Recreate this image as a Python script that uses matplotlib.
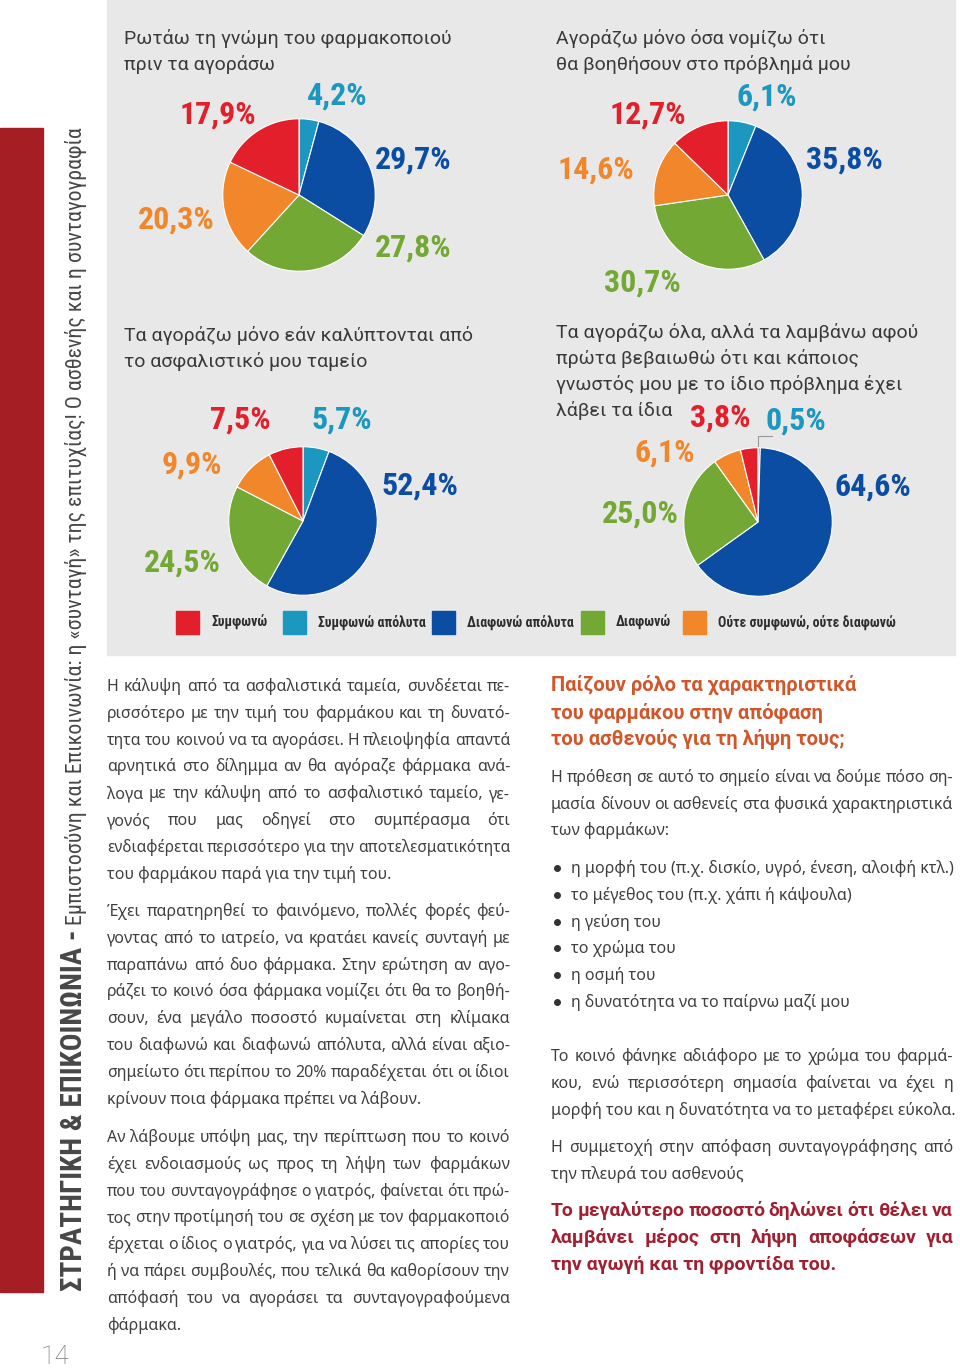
import matplotlib
matplotlib.use("Agg", force=True)
import matplotlib.pyplot as plt
from matplotlib.patches import Rectangle

W, H = 960, 1370

# ---- data ----
CATEGORIES = ["Συμφωνώ", "Συμφωνώ απόλυτα", "Διαφωνώ απόλυτα", "Διαφωνώ",
              "Ούτε συμφωνώ, ούτε διαφωνώ"]
COLORS = ["#e41f2c", "#1b97c0", "#0b4da2", "#74a834", "#f1862a"]

Q_TITLES = [
    "Ρωτάω τη γνώμη του φαρμακοποιού\nπριν τα αγοράσω",
    "Τα αγοράζω μόνο εάν καλύπτονται από\nτο ασφαλιστικό μου ταμείο",
    "Αγοράζω μόνο όσα νομίζω ότι\nθα βοηθήσουν στο πρόβλημά μου",
    "Τα αγοράζω όλα, αλλά τα λαμβάνω αφού\nπρώτα βεβαιωθώ ότι και κάποιος\n"
    "γνωστός μου με το ίδιο πρόβλημα έχει\nλάβει τα ίδια",
]
# values in CATEGORIES order
Q1 = [17.9, 4.2, 29.7, 27.8, 20.3]
Q2 = [7.5, 5.7, 52.4, 24.5, 9.9]
Q3 = [12.7, 6.1, 35.8, 30.7, 14.6]
Q4 = [3.8, 0.5, 64.6, 25.0, 6.1]
QUESTIONS = [Q1, Q2, Q3, Q4]
PIE_ORDER = [1, 2, 3, 4, 0]   # clockwise from 12 o'clock

LEFT_TEXT = [
    ["Η κάλυψη από τα ασφαλιστικά ταμεία, συνδέεται πε-",
     "ρισσότερο με την τιμή του φαρμάκου και τη δυνατό-",
     "τητα του κοινού να τα αγοράσει.  Η πλειοψηφία απαντά",
     "αρνητικά στο δίλημμα αν θα αγόραζε  φάρμακα ανά-",
     "λογα με την κάλυψη από το ασφαλιστικό ταμείο, γε-",
     "γονός που μας οδηγεί στο συμπέρασμα ότι",
     "ενδιαφέρεται περισσότερο για την αποτελεσματικότητα",
     "του φαρμάκου παρά για την τιμή του."],
    ["Έχει παρατηρηθεί το φαινόμενο, πολλές φορές φεύ-",
     "γοντας από το ιατρείο, να κρατάει κανείς συνταγή με",
     "παραπάνω από δυο φάρμακα. Στην ερώτηση αν αγο-",
     "ράζει το κοινό όσα φάρμακα νομίζει ότι θα το βοηθή-",
     "σουν, ένα μεγάλο ποσοστό κυμαίνεται στη κλίμακα",
     "του διαφωνώ και διαφωνώ απόλυτα, αλλά είναι αξιο-",
     "σημείωτο ότι περίπου το 20% παραδέχεται ότι οι ίδιοι",
     "κρίνουν ποια φάρμακα πρέπει να λάβουν."],
    ["Αν λάβουμε υπόψη μας, την περίπτωση που το κοινό",
     "έχει ενδοιασμούς ως προς τη λήψη των φαρμάκων",
     "που του συνταγογράφησε ο γιατρός, φαίνεται ότι πρώ-",
     "τος στην προτίμησή του σε σχέση με τον φαρμακοποιό",
     "έρχεται ο ίδιος ο γιατρός, για να λύσει τις απορίες του",
     "ή να πάρει συμβουλές, που τελικά θα καθορίσουν την",
     "απόφασή του να αγοράσει τα συνταγογραφούμενα",
     "φάρμακα."],
]
RIGHT_HEAD = ["Παίζουν ρόλο τα χαρακτηριστικά", "του φαρμάκου στην απόφαση",
              "του ασθενούς για τη λήψη τους;"]
RIGHT_P1 = ["Η πρόθεση σε αυτό το σημείο είναι να δούμε πόσο ση-",
            "μασία δίνουν οι ασθενείς στα φυσικά χαρακτηριστικά",
            "των φαρμάκων:"]
BULLETS = ["η μορφή του (π.χ. δισκίο, υγρό, ένεση, αλοιφή κτλ.)",
           "το μέγεθος του (π.χ. χάπι ή κάψουλα)",
           "η γεύση του", "το χρώμα του", "η οσμή του",
           "η δυνατότητα να το παίρνω μαζί μου"]
RIGHT_P2 = ["Το κοινό φάνηκε αδιάφορο με το χρώμα του φαρμά-",
            "κου, ενώ περισσότερη σημασία φαίνεται να έχει η",
            "μορφή του και η δυνατότητα να το μεταφέρει εύκολα."]
RIGHT_P3 = ["Η συμμετοχή στην απόφαση συνταγογράφησης από",
            "την πλευρά του ασθενούς"]
RIGHT_BOLD = ["Το μεγαλύτερο ποσοστό δηλώνει ότι θέλει να",
              "λαμβάνει μέρος στη λήψη αποφάσεων για",
              "την αγωγή και τη φροντίδα του."]
SIDE_BOLD = "ΣΤΡΑΤΗΓΙΚΗ & ΕΠΙΚΟΙΝΩΝΙΑ -"
SIDE_TEXT = ("Εμπιστοσύνη και Επικοινωνία: η «συνταγή» της επιτυχίας! "
             "Ο ασθενής και η συνταγογραφία")
PAGE_NO = "14"

# ---- layout (pixels) ----
PIE_CENTERS = [(299, 195), (303, 521), (728, 195), (758, 522)]
PIE_R = [77, 75, 75, 75]
TITLE_POS = [(124, 38), (124, 335), (556, 38), (556, 332)]
# label centres, CATEGORIES order
LABEL_POS = [
    [(218, 115), (337, 96), (413, 160), (413, 248), (176, 220)],
    [(240, 420), (342, 420), (420, 486), (182, 563), (192, 465)],
    [(648, 115), (767, 97), (844, 160), (642, 283), (596, 170)],
    [(720, 418), (796, 421), (873, 487), (640, 514), (665, 453)],
]
LEG_X = [176, 283, 432, 581, 683]

COND = ["Roboto Condensed", "DejaVu Sans"]
BODY = ["Noto Sans", "DejaVu Sans"]
HEAD = ["Roboto", "DejaVu Sans"]
TEXT_C = "#404040"

fig = plt.figure(figsize=(W / 100, H / 100), dpi=100)
fig.patch.set_facecolor("white")
ax = fig.add_axes([0, 0, 1, 1])
ax.set_xlim(0, W)
ax.set_ylim(H, 0)
ax.axis("off")
renderer = fig.canvas.get_renderer()

# backgrounds
ax.add_patch(Rectangle((107, 0), 848, 655, color="#e8e8e8", zorder=0))
ax.add_patch(Rectangle((0, 128), 43, 1164, color="#a41e24", zorder=0))


def text_width(t):
    return t.get_window_extent(renderer).width


def draw_line(x0, x1, y, s, justify=True, min_gap=3.5, **kw):
    words = s.split()
    if not justify or len(words) < 2:
        ax.text(x0, y, s, va="baseline", ha="left", **kw)
        return
    ts = [ax.text(0, y, w, va="baseline", ha="left", **kw) for w in words]
    ws = [text_width(t) for t in ts]
    room = x1 - x0 - min_gap * (len(words) - 1)
    if sum(ws) > room:          # too long: shrink this line a little
        k = room / sum(ws)
        for t in ts:
            t.set_fontsize(t.get_fontsize() * k)
        ws = [text_width(t) for t in ts]
    gap = (x1 - x0 - sum(ws)) / (len(words) - 1)
    x = x0
    for t, w in zip(ts, ws):
        t.set_x(x)
        x += w + gap


def draw_par(lines, x0, x1, y0, dy, **kw):
    for i, s in enumerate(lines):
        draw_line(x0, x1, y0 + i * dy, s, justify=(i < len(lines) - 1), **kw)


# ---- pies ----
for q, vals in enumerate(QUESTIONS):
    cx, cy = PIE_CENTERS[q]
    r = PIE_R[q]
    pax = fig.add_axes([(cx - r) / W, 1 - (cy + r) / H, 2 * r / W, 2 * r / H])
    pax.pie([vals[i] for i in PIE_ORDER], colors=[COLORS[i] for i in PIE_ORDER],
            startangle=90, counterclock=False,
            wedgeprops=dict(edgecolor="white", linewidth=0.8))
    pax.set_xlim(-1.01, 1.01)
    pax.set_ylim(-1.01, 1.01)
    pax.axis("off")

    tx, ty = TITLE_POS[q]
    for k, line in enumerate(Q_TITLES[q].split("\n")):
        ax.text(tx, ty + 6 + 26 * k, line, fontsize=14, color="#3a3a3a",
                family=HEAD, va="baseline")

    for c, v in enumerate(vals):
        lx, ly = LABEL_POS[q][c]
        ax.text(lx, ly, f"{v:.1f}".replace(".", ",") + "%", fontsize=23,
                color=COLORS[c], family=COND, weight="bold",
                ha="center", va="center")

# leader for the 0,5% slice
ax.plot([758, 758, 772], [448, 436, 436], color="#9a9a9a", lw=0.8)

# ---- legend ----
for c, name in enumerate(CATEGORIES):
    ax.add_patch(Rectangle((LEG_X[c], 611), 23, 23, color=COLORS[c]))
    ax.text(LEG_X[c] + 35, 622, name, fontsize=10, color="#2e2e2e",
            family=COND, weight="bold", va="center", ha="left")

# ---- left column ----
body = dict(fontsize=11.5, color=TEXT_C, family=BODY)
ys = [691, 916, 1142]
for par, y in zip(LEFT_TEXT, ys):
    draw_par(par, 107, 510, y, 26.8, **body)

# ---- right column ----
for i, s in enumerate(RIGHT_HEAD):
    ax.text(551, 691 + 27 * i, s, fontsize=14.5, weight="bold", color="#d2562a",
            family=HEAD, va="baseline")
draw_par(RIGHT_P1, 551, 953, 782, 26.7, **body)
for i, s in enumerate(BULLETS):
    y = 873 + 26.8 * i
    ax.plot(557, y - 5, "o", ms=4, color="#333333")
    ax.text(571, y, s, va="baseline", **body)
draw_par(RIGHT_P2, 551, 953, 1061, 26.8, **body)
draw_par(RIGHT_P3, 551, 953, 1152, 26.8, **body)
draw_par(RIGHT_BOLD, 551, 953, 1216, 27, fontsize=14, weight="bold",
         color="#a01f30", family=HEAD)

# ---- sidebar ----
def fit_size(s, target, **kw):
    t = ax.text(0, 0, s, fontsize=10, **kw)
    w = text_width(t)
    t.remove()
    return 10 * target / w

bold_kw = dict(family=COND, weight="bold", color="#474747")
reg_kw = dict(family=COND, color="#474747")
fs1 = fit_size(SIDE_BOLD, 360, **bold_kw)
fs2 = fit_size(SIDE_TEXT, 795, **reg_kw)
ax.text(82, 1291, SIDE_BOLD, fontsize=fs1, rotation=90, rotation_mode="anchor",
        ha="left", va="baseline", **bold_kw)
ax.text(82, 925, SIDE_TEXT, fontsize=fs2, rotation=90, rotation_mode="anchor",
        ha="left", va="baseline", **reg_kw)

ax.text(55, 1357, PAGE_NO, fontsize=19, color="#7a7a7a", ha="center",
        va="center", family=HEAD, weight="light")

fig.savefig("out.png", dpi=100)
